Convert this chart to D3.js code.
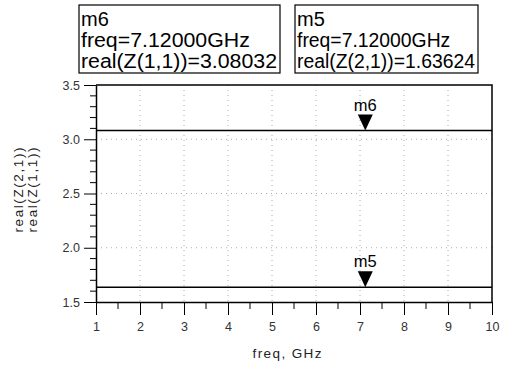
<!DOCTYPE html>
<html>
<head>
<meta charset="utf-8">
<script src="https://cdn.jsdelivr.net/npm/d3@7"></script>
<style>
html,body{margin:0;padding:0;background:#fff;}
svg{display:block;font-family:"Liberation Sans",Arial,sans-serif;}
</style>
</head>
<body>
<svg id="chart" width="506" height="370"></svg>
<script>
// ---- data ----
const freqGHz = [1, 2, 3, 4, 5, 6, 7, 8, 9, 10];
const realZ11 = [3.080, 3.080, 3.080, 3.080, 3.080, 3.080, 3.080, 3.080, 3.080, 3.080];
const realZ21 = [1.636, 1.636, 1.636, 1.636, 1.636, 1.636, 1.636, 1.636, 1.636, 1.636];
const xTicks = [1, 2, 3, 4, 5, 6, 7, 8, 9, 10];
const yTicks = [1.5, 2.0, 2.5, 3.0, 3.5];
const markers = [
  {name: "m6", freq: 7.12, value: 3.08032, label: "real(Z(1,1))=3.08032"},
  {name: "m5", freq: 7.12, value: 1.63624, label: "real(Z(2,1))=1.63624"}
];

const svg = d3.select("#chart");
const L = 96, R = 492, T = 85, B = 302;
const x = d3.scaleLinear().domain([1, 10]).range([L, R]);
const y = d3.scaleLinear().domain([1.5, 3.5]).range([B, T]);

// grid
const grid = svg.append("g").attr("stroke", "#aaa").attr("stroke-width", 1).attr("stroke-dasharray", "1,4");
xTicks.slice(1, -1).forEach(v => grid.append("line").attr("x1", x(v)).attr("x2", x(v)).attr("y1", T).attr("y2", B));
yTicks.slice(1, -1).forEach(v => grid.append("line").attr("x1", L).attr("x2", R).attr("y1", y(v)).attr("y2", y(v)));

// frame top/right
svg.append("path").attr("d", `M${L},${T}H${R}V${B}`).attr("fill", "none").attr("stroke", "#000").attr("stroke-width", 1.5);

// minor ticks
const yMinor = d3.range(15, 36).map(d => d / 10).filter(v => !yTicks.some(t => Math.abs(t - v) < 1e-6));
const xMinor = d3.range(1.5, 10, 1);

const yAxis = d3.axisLeft(y).tickValues(yTicks).tickFormat(d3.format(".1f")).tickSize(12).tickSizeOuter(0).tickPadding(4);
const gy = svg.append("g").attr("transform", `translate(${L},0)`).call(yAxis);
gy.append("g").selectAll("line").data(yMinor).join("line")
  .attr("x1", -6).attr("x2", 0).attr("y1", d => y(d)).attr("y2", d => y(d)).attr("stroke", "#000");

const xAxis = d3.axisBottom(x).tickValues(xTicks).tickFormat(d3.format("d")).tickSize(13).tickSizeOuter(0).tickPadding(7);
const gx = svg.append("g").attr("transform", `translate(0,${B})`).call(xAxis);
gx.append("g").selectAll("line").data(xMinor).join("line")
  .attr("x1", d => x(d)).attr("x2", d => x(d)).attr("y1", 0).attr("y2", 7).attr("stroke", "#000");

[gx, gy].forEach(g => {
  g.select(".domain").attr("stroke", "#000").attr("stroke-width", 1.5);
  g.selectAll(".tick line").attr("stroke", "#000");
  g.selectAll(".tick text").attr("font-size", 12.5).attr("fill", "#333").attr("font-family", "Liberation Sans, Arial, sans-serif");
});

// data lines
const line = d3.line().x((d, i) => x(freqGHz[i])).y(d => y(d));
[realZ11, realZ21].forEach(s => svg.append("path").datum(s).attr("d", line)
  .attr("fill", "none").attr("stroke", "#000").attr("stroke-width", 1.6));

// markers
markers.forEach(m => {
  const mx = x(m.freq), my = y(m.value);
  svg.append("path").attr("d", `M${mx - 7.5},${my - 16}L${mx + 7.5},${my - 16}L${mx},${my}Z`).attr("fill", "#000");
  svg.append("text").attr("x", mx).attr("y", my - 20).attr("text-anchor", "middle")
    .attr("font-size", 16.5).attr("fill", "#000").text(m.name);
});

// marker readout boxes
const boxes = [{x0: 79, x1: 280, m: markers[0]}, {x0: 295, x1: 478, m: markers[1]}];
boxes.forEach(b => {
  svg.append("rect").attr("x", b.x0).attr("y", 5).attr("width", b.x1 - b.x0).attr("height", 68)
    .attr("fill", "#fff").attr("stroke", "#000").attr("stroke-width", 1.2);
  const w = b.x1 - b.x0 - 5;
  const lines = [b.m.name, `freq=${b.m.freq.toFixed(5)}GHz`, b.m.label];
  lines.forEach((t, i) => {
    const tx = svg.append("text").attr("x", b.x0 + 2).attr("y", 26 + i * 21)
      .attr("font-size", 20).attr("fill", "#000").text(t);
    if (i === 2) tx.attr("textLength", w).attr("lengthAdjust", "spacingAndGlyphs");
    if (i === 1) tx.attr("textLength", w * 7.921 / 9.198).attr("lengthAdjust", "spacingAndGlyphs");
  });
});

// axis titles
svg.append("text").attr("x", 287).attr("y", 358).attr("text-anchor", "middle")
  .attr("font-size", 13.5).attr("fill", "#222").attr("textLength", 69).attr("lengthAdjust", "spacing").text("freq, GHz");
const yl = svg.append("g").attr("transform", `translate(0,${190}) rotate(-90)`);
yl.append("text").attr("x", 0).attr("y", 23).attr("text-anchor", "middle").attr("font-size", 13.5).attr("fill", "#222")
  .attr("textLength", 85).attr("lengthAdjust", "spacing").text("real(Z(2,1))");
yl.append("text").attr("x", 0).attr("y", 37).attr("text-anchor", "middle").attr("font-size", 13.5).attr("fill", "#222")
  .attr("textLength", 85).attr("lengthAdjust", "spacing").text("real(Z(1,1))");
</script>
</body>
</html>
